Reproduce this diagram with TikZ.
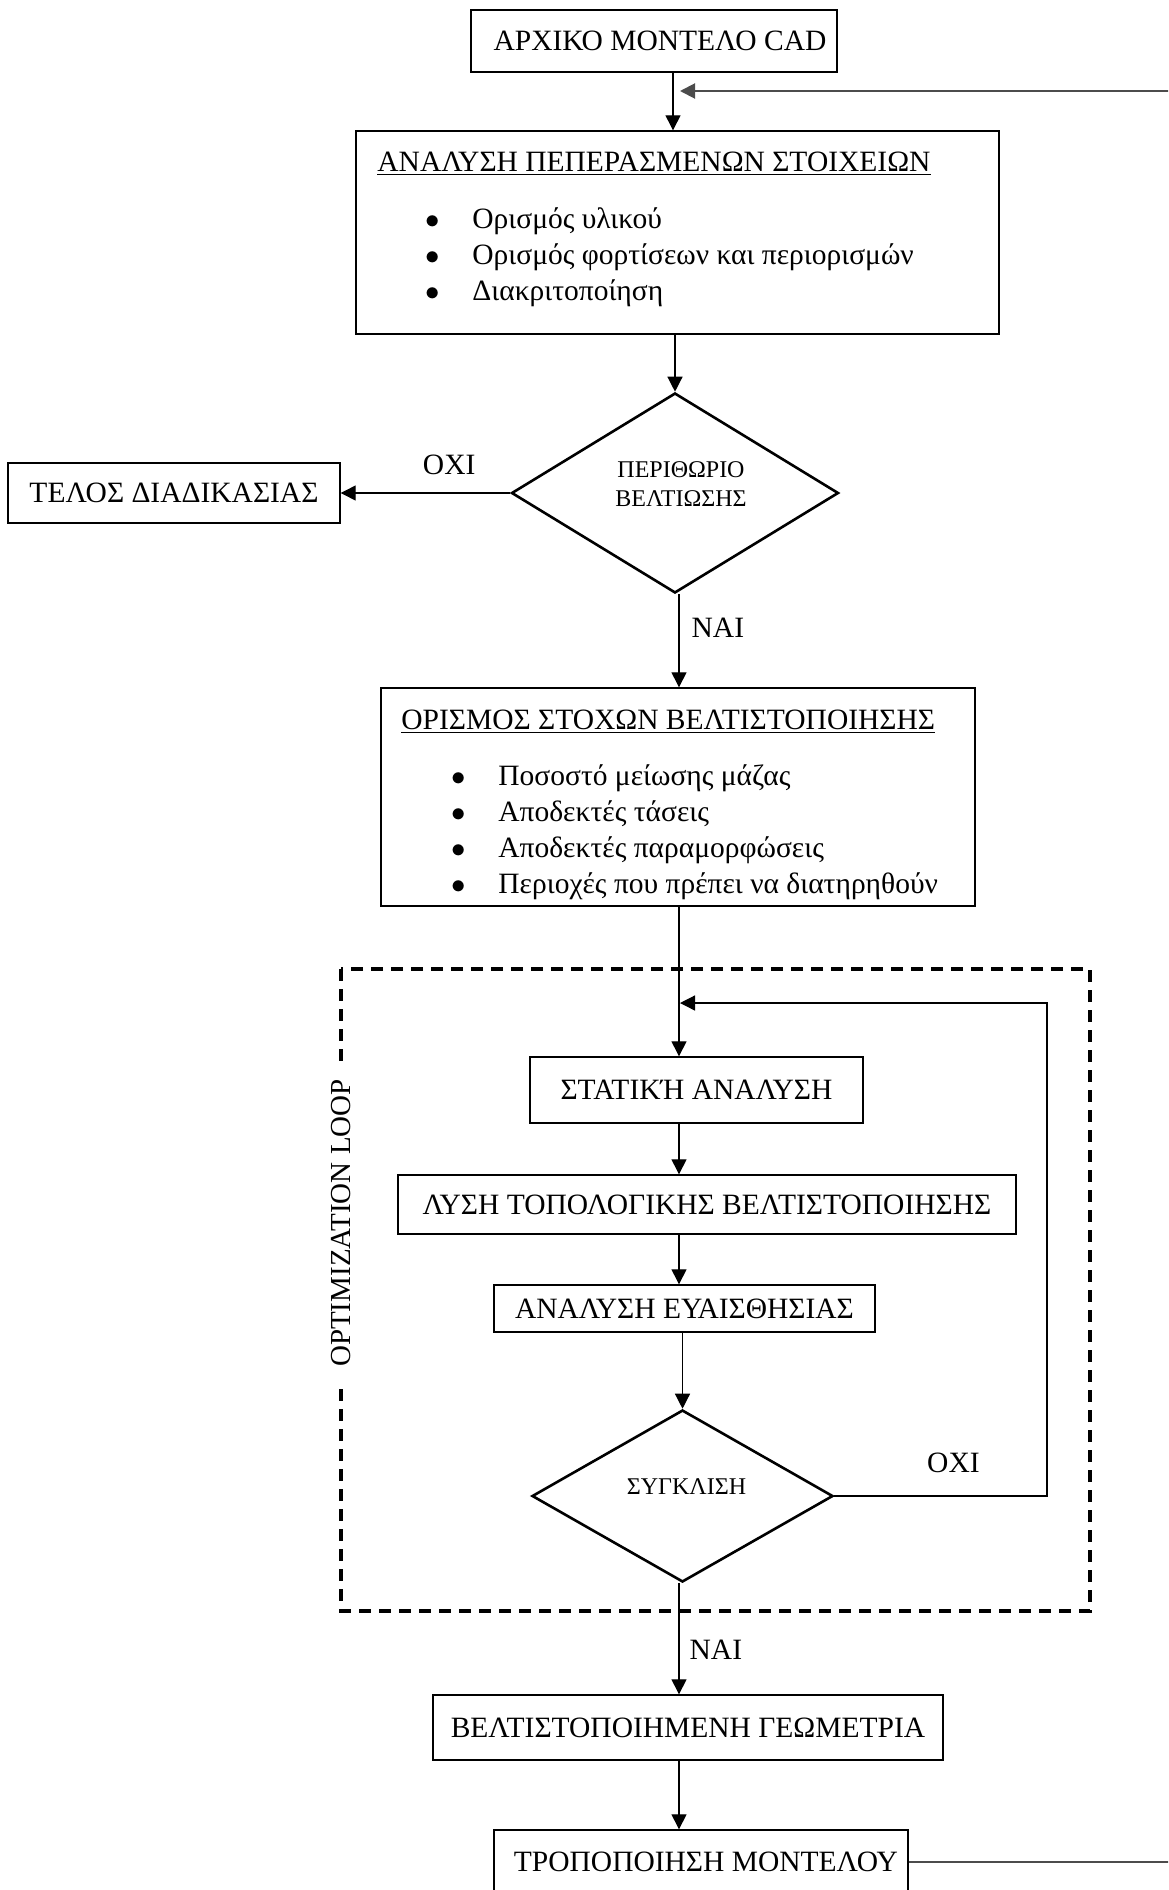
\documentclass[tikz,border=0pt]{standalone}
\usepackage{fontspec}
\setmainfont{Liberation Serif}
\usetikzlibrary{shapes.geometric, arrows.meta, positioning}

\newcommand{\mainsize}{\fontsize{14.75pt}{18pt}\selectfont}
\newcommand{\smallsize}{\fontsize{12pt}{14.5pt}\selectfont}
\newcommand{\loopsize}{\fontsize{14.5pt}{17pt}\selectfont}
\newcommand{\bul}{$\bullet$}

\tikzset{
	box/.style={draw, rectangle, line width=0.7pt, inner sep=0pt, font=\mainsize},
	decision/.style={draw, diamond, aspect=1.6, line width=1.3pt, inner sep=0pt, text depth=9pt, align=center, font=\smallsize},
	lbl/.style={inner sep=0pt, font=\mainsize},
	arr/.style={-{Triangle[length=7.5pt,width=7.5pt]}, line width=0.65pt},
	fb/.style={arr, draw=black!70, line width=1pt},
	loopbox/.style={line width=1.8pt, dash pattern=on 6pt off 4pt},
}

\begin{document}
\begin{tikzpicture}[x=0.5pt, y=-0.5pt]
	\useasboundingbox (0,0) rectangle (1168,1890);
	\clip (0,0) rectangle (1168,1890);
	
	\coordinate (spine) at (679,0);
	\coordinate (join1) at (680,91);
	\coordinate (join2) at (680,1003);
	\coordinate (back2) at (1047,1003);
	\coordinate (outR) at (1200,0);
	
	% start and FEA setup
	\node[box, minimum width=183pt, minimum height=31pt] (cad) at (654,41) {\hspace{6pt}ΑΡΧΙΚΟ ΜΟΝΤΕΛΟ CAD};
	\node[box, minimum width=321.5pt, minimum height=101.5pt] (fea) at (677.5,232.5) {};
	\node[lbl, anchor=base west] (feat) at (377,171) {\underline{ΑΝΑΛΥΣΗ ΠΕΠΕΡΑΣΜΕΝΩΝ ΣΤΟΙΧΕΙΩΝ}};
	\node[lbl, anchor=base west] (feal) at (425,228) {\begin{tabular}[t]{@{}p{23.5pt}@{}l@{}}
			\bul & Ορισμός υλικού\\
			\bul & Ορισμός φορτίσεων και περιορισμών\\
			\bul & Διακριτοποίηση
	\end{tabular}};
	
	\node[decision, minimum width=163.5pt, minimum height=100pt] (dia1) at (675,493) {\hspace{6pt}ΠΕΡΙΘΩΡΙΟ\\\hspace{6pt}ΒΕΛΤΙΩΣΗΣ};
	\node[box, minimum width=166pt, minimum height=30pt] (telos) at (174,493) {ΤΕΛΟΣ ΔΙΑΔΙΚΑΣΙΑΣ};
	
	% objectives
	\node[box, minimum width=297pt, minimum height=109pt] (obj) at (678,797) {};
	\node[lbl, anchor=base west] (objt) at (401,729) {\underline{ΟΡΙΣΜΟΣ ΣΤΟΧΩΝ ΒΕΛΤΙΣΤΟΠΟΙΗΣΗΣ}};
	\node[lbl, anchor=base west] (objl) at (451,785) {\begin{tabular}[t]{@{}p{23.5pt}@{}l@{}}
			\bul & Ποσοστό μείωσης μάζας\\
			\bul & Αποδεκτές τάσεις\\
			\bul & Αποδεκτές παραμορφώσεις\\
			\bul & Περιοχές που πρέπει να διατηρηθούν
	\end{tabular}};
	
	% optimization loop
	\draw[loopbox] (341,969) rectangle (1090,1611);
	\node[lbl, rotate=90, fill=white, inner xsep=7pt, inner ysep=2pt, font=\loopsize] (looplbl) at (341,1223) {OPTIMIZATION LOOP};
	
	\node[box, minimum width=166.5pt, minimum height=33pt] (stat) at (696.5,1090) {ΣΤΑΤΙΚΉ ΑΝΑΛΥΣΗ\hspace{6pt}};
	\node[box, minimum width=309pt, minimum height=29.5pt] (lysi) at (707,1204.5) {ΛΥΣΗ ΤΟΠΟΛΟΓΙΚΗΣ ΒΕΛΤΙΣΤΟΠΟΙΗΣΗΣ};
	\node[box, minimum width=190.5pt, minimum height=23.5pt] (anal) at (684.5,1308.5) {ΑΝΑΛΥΣΗ ΕΥΑΙΣΘΗΣΙΑΣ};
	\node[decision, minimum width=150.5pt, minimum height=86pt] (dia2) at (682.5,1496) {\hspace{4pt}ΣΥΓΚΛΙΣΗ};
	
	% result
	\node[box, minimum width=255pt, minimum height=32.5pt] (geom) at (688,1727.5) {ΒΕΛΤΙΣΤΟΠΟΙΗΜΕΝΗ ΓΕΩΜΕΤΡΙΑ};
	\node[box, minimum width=207pt, minimum height=32pt] (tropo) at (701,1862) {\hspace{5pt}ΤΡΟΠΟΠΟΙΗΣΗ ΜΟΝΤΕΛΟΥ};
	
	
	\draw[arr] (cad.south -| 673,0) -- (fea.north -| 673,0);
	\draw[arr] (fea.south -| dia1.north) -- (dia1.north);
	\draw[arr] (dia1.west) -- node[lbl, pos=0.36, above=9pt] {ΟΧΙ} (telos.east);
	\draw[arr] (dia1.south -| spine) -- node[lbl, pos=0.36, right=6pt] {ΝΑΙ} (obj.north -| spine);
	
	\draw[arr] (obj.south -| spine) -- (stat.north -| spine);
	\draw[arr] (stat.south -| spine) -- (lysi.north -| spine);
	\draw[arr] (lysi.south -| spine) -- (anal.north -| spine);
	\draw[arr] (anal.south -| dia2.north) -- (dia2.north);
	\draw[arr] (dia2.east) -| node[lbl, pos=0.28, above=11.5pt] {ΟΧΙ} (back2) -- (join2);
	\draw[arr] (dia2.south -| spine) -- node[lbl, pos=0.6, right=5pt] {ΝΑΙ} (geom.north -| spine);
	\draw[arr] (geom.south -| spine) -- (tropo.north -| spine);
	
	% back to the model
	\draw[fb] (tropo.east) -- (tropo.east -| outR) -- (outR |- join1) -- (join1);
	
\end{tikzpicture}
\end{document}
